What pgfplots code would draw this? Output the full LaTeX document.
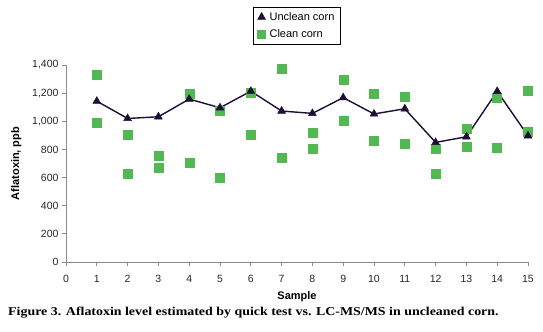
\documentclass[border=0pt]{standalone}
\usepackage{pgfplots}
\pgfplotsset{compat=1.18}
\usepackage{fontspec}
\setmainfont{Liberation Sans}
\newfontfamily\capfont[FakeStretch=1.16]{Liberation Serif}
\definecolor{uncl}{HTML}{1E0E33}
\definecolor{clean}{HTML}{52B952}
\definecolor{axgray}{HTML}{8A8A8A}
\begin{document}
\begin{tikzpicture}
\begin{axis}[
  width=462pt, height=197pt, scale only axis,
  xmin=0, xmax=15, ymin=0, ymax=1400,
  xtick={0,...,15}, ytick={0,200,...,1400},
  axis x line*=bottom, axis y line*=left,
  axis line style={axgray, line width=0.8pt},
  tick style={axgray, line width=0.8pt},
  tick align=outside, major tick length=4pt,
  /pgf/number format/.cd, 1000 sep={,}, assume math mode=true,
  /pgfplots/.cd,
  ticklabel style={font=\fontsize{10.5}{12}\selectfont, text=black!85},
  xticklabel style={yshift=-6pt},
  xlabel={\bfseries Sample}, ylabel={\bfseries Aflatoxin, ppb},
  label style={font=\fontsize{11}{12}\selectfont},
  xlabel style={yshift=-2pt},
  ylabel style={yshift=4pt},
  legend style={at={(0.5,1.295)}, anchor=north, draw=black, line width=0.9pt,
    font=\fontsize{11}{13}\selectfont, row sep=4pt, column sep=2pt, inner xsep=4pt, inner ysep=3pt},
  legend cell align=left,
  clip=false,
]
\addplot[forget plot, only marks, mark=square*, mark size=4.5pt, color=clean, mark options={draw=clean, fill=clean}] coordinates {
(1,1334)(1,987)(2,906)(2,629)(3,757)(3,672)(4,1198)(4,707)(5,1075)(5,600)
(6,1203)(6,906)(7,1376)(7,743)(8,916)(8,807)(9,1298)(9,1006)(10,1198)(10,864)
(11,1177)(11,842)(12,807)(12,629)(13,944)(13,821)(14,1170)(14,814)(15,1215)(15,925)
};
\addplot[forget plot, color=uncl, line width=1.4pt, mark=triangle*, mark size=4.5pt, mark options={fill=uncl, line width=0.5pt}] coordinates {
(1,1143)(2,1020)(3,1032)(4,1158)(5,1096)(6,1214)(7,1073)(8,1056)(9,1168)(10,1052)
(11,1089)(12,850)(13,890)(14,1213)(15,897)
};
\addlegendimage{only marks, mark=triangle*, mark size=4.5pt, color=uncl, mark options={fill=uncl, line width=0.5pt}}
\addlegendentry{Unclean corn}
\addlegendimage{only marks, mark=square*, mark size=4pt, color=clean, mark options={draw=clean, fill=clean}}
\addlegendentry{Clean corn}
\coordinate (bl) at (rel axis cs:-0.1429,-0.3553);
\coordinate (tr) at (rel axis cs:1.0325,1.330);
\coordinate (cap) at (rel axis cs:-0.1255,-0.255);
\end{axis}
\node[anchor=west, inner sep=0pt, font={\capfont\bfseries\fontsize{12}{14}\selectfont}] at (cap) {Figure 3. Aflatoxin level estimated by quick test vs. LC-MS/MS in uncleaned corn.};
\pgfresetboundingbox
\useasboundingbox (bl) rectangle (tr);
\end{tikzpicture}
\end{document}
